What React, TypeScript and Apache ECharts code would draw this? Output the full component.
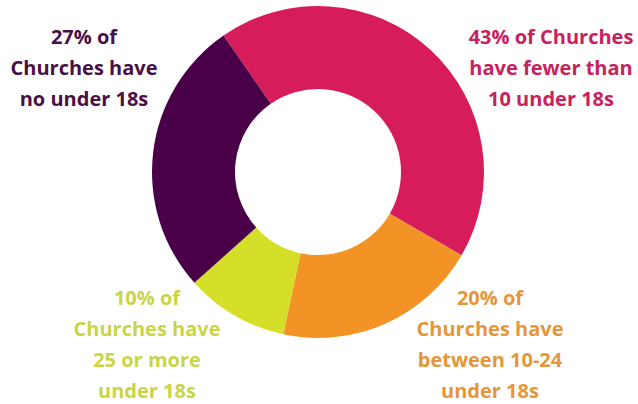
import React, { useEffect, useRef } from "react";
import * as echarts from "echarts";

const categories = ["fewer than 10", "10-24", "25 or more", "none"];
const shares = [43, 20, 10, 27];
const sliceColors = ["#D61C5B", "#F39325", "#D5DF2A", "#4A0048"];
const textColors = ["#C8215D", "#E6963A", "#C9D545", "#4A0F47"];
const labelLines = [
  ["43% of Churches", "have fewer than", "10 under 18s"],
  ["20% of", "Churches have", "between 10-24", "under 18s"],
  ["10% of", "Churches have", "25 or more", "under 18s"],
  ["27% of", "Churches have", "no under 18s"],
];

export default function App() {
  const ref = useRef<HTMLDivElement>(null);
  useEffect(() => {
    if (!ref.current) return;
    const chart = echarts.init(ref.current, undefined, { renderer: "svg" });
    const anchors = [
      { x: 551, y: 21 },
      { x: 490, y: 282 },
      { x: 147, y: 282 },
      { x: 84, y: 21 },
    ];
    chart.setOption({
      animation: false,
      backgroundColor: "#ffffff",
      series: [
        {
          type: "pie",
          center: [318, 172],
          radius: [83, 166],
          startAngle: 124.7,
          clockwise: true,
          label: { show: false },
          labelLine: { show: false },
          itemStyle: { borderWidth: 0 },
          emphasis: { disabled: true },
          data: categories.map((c, i) => ({
            name: c,
            value: shares[i],
            itemStyle: { color: sliceColors[i] },
          })),
        },
      ],
      graphic: labelLines.map((lines, i) => ({
        type: "text",
        x: anchors[i].x,
        y: anchors[i].y,
        style: {
          text: lines.join("\n"),
          fill: textColors[i],
          font: "bold 20px 'Open Sans'",
          lineHeight: 31,
          align: "center",
          verticalAlign: "top",
        },
      })),
    });
    return () => chart.dispose();
  }, []);
  return (
    <div
      ref={ref}
      style={{ position: "absolute", left: 0, top: 0, width: 638, height: 404 }}
    />
  );
}
